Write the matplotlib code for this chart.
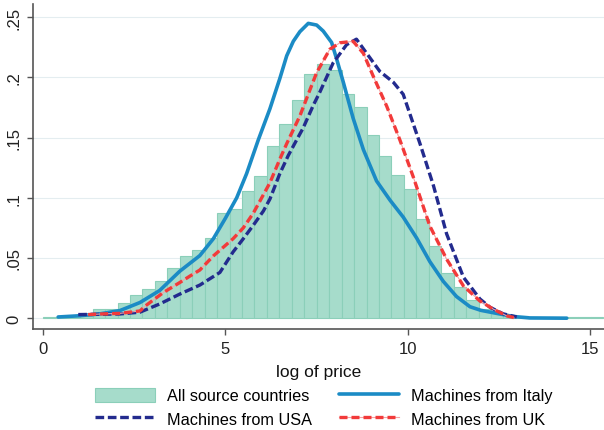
import numpy as np
import matplotlib
matplotlib.use("Agg")
import matplotlib.pyplot as plt

plt.rcParams['font.family'] = ['Liberation Sans', 'DejaVu Sans']

# histogram of all source countries (density per bin)
hist_start = 0.0
bin_width = 0.341
hist_heights = [0.0012, 0.0012, 0.0015, 0.0018, 0.0075, 0.0078, 0.013, 0.019,
                0.0244, 0.031, 0.042, 0.052, 0.0565, 0.067, 0.087, 0.0903,
                0.106, 0.118, 0.143, 0.1615, 0.1815, 0.2025, 0.211, 0.2064,
                0.1866, 0.1755, 0.1523, 0.1348, 0.1186, 0.107, 0.082, 0.0596,
                0.0374, 0.0255, 0.0154, 0.0078, 0.0047, 0.003, 0.0018, 0.0012,
                0.001, 0.0008, 0.0008, 0.0007, 0.0007]

# kernel density, machines from Italy
italy_x = [0.42, 1.0, 1.56, 2.11, 2.66, 3.2, 3.75, 4.3, 4.67, 5.0, 5.31, 5.58,
           5.9, 6.22, 6.36, 6.49, 6.68, 6.86, 7.04, 7.27, 7.5, 7.68, 7.91,
           8.05, 8.23, 8.5, 8.78, 9.14, 9.51, 9.87, 10.24, 10.6, 10.97, 11.33,
           11.7, 12.0, 12.43, 12.89, 13.34, 14.35]
italy_y = [0.001, 0.002, 0.0036, 0.0063, 0.013, 0.023, 0.039, 0.052, 0.066,
           0.083, 0.100, 0.12, 0.148, 0.174, 0.187, 0.199, 0.218, 0.23, 0.238,
           0.2449, 0.2435, 0.2385, 0.229, 0.215, 0.196, 0.166, 0.14, 0.114,
           0.098, 0.084, 0.0665, 0.047, 0.0305, 0.018, 0.0095, 0.0065, 0.004,
           0.0014, 0.0002, 0.0]

# machines from USA
usa_x = [0.97, 1.5, 2.11, 2.66, 3.2, 3.75, 4.3, 4.85, 5.21, 5.49, 5.76, 6.04,
         6.22, 6.49, 6.72, 6.95, 7.13, 7.41, 7.59, 7.95, 8.32, 8.59, 8.87,
         9.23, 9.6, 9.87, 10.05, 10.33, 10.7, 11.06, 11.52, 11.97, 12.25,
         12.61, 12.98]
usa_y = [0.003, 0.0032, 0.0035, 0.005, 0.0118, 0.02, 0.0275, 0.038, 0.055,
         0.066, 0.077, 0.089, 0.099, 0.12, 0.135, 0.148, 0.158, 0.177, 0.188,
         0.212, 0.2272, 0.2318, 0.22, 0.205, 0.196, 0.186, 0.17, 0.145, 0.11,
         0.07, 0.034, 0.016, 0.009, 0.0036, 0.001]

# machines from UK
uk_x = [1.24, 1.6, 2.11, 2.66, 2.8, 3.3, 3.75, 4.03, 4.3, 4.67, 5.21, 5.49,
        5.76, 6.22, 6.49, 6.68, 7.04, 7.32, 7.5, 7.86, 8.14, 8.5, 8.78, 9.05,
        9.42, 9.78, 10.15, 10.6, 11.06, 11.52, 11.97, 12.34, 12.7, 12.9]
uk_y = [0.003, 0.0035, 0.004, 0.006, 0.01, 0.0213, 0.0296, 0.035, 0.04,
        0.0517, 0.066, 0.075, 0.087, 0.1125, 0.132, 0.145, 0.168, 0.19, 0.204,
        0.2234, 0.2288, 0.23, 0.22, 0.201, 0.176, 0.148, 0.117, 0.0765, 0.049,
        0.0268, 0.0143, 0.0075, 0.002, 0.0005]

x_ticks = [0, 5, 10, 15]
y_ticks = [0, 0.05, 0.1, 0.15, 0.2, 0.25]
y_ticklabels = ['0', '.05', '.1', '.15', '.2', '.25']

fig = plt.figure(figsize=(6.04, 4.31), dpi=100)
ax = fig.add_axes([0.0546, 0.2343, 0.9454, 0.7541])

edges = hist_start + bin_width * np.arange(len(hist_heights))
bars = ax.bar(edges, hist_heights, width=bin_width, align='edge',
              color='#a6dccb', edgecolor='#8bcfb9', linewidth=0.8, zorder=2)

l_italy, = ax.plot(italy_x, italy_y, color='#1b8bc5', lw=2.6,
                   solid_capstyle='round', solid_joinstyle='round', zorder=3)
l_usa, = ax.plot(usa_x, usa_y, color='#232b8e', lw=2.4,
                 dashes=(2.6, 1.1), zorder=4)
l_uk_dot, = ax.plot(uk_x, uk_y, color='#f6a3a3', lw=0.8, zorder=5)
l_uk, = ax.plot(uk_x, uk_y, color='#f23a3a', lw=2.4,
                dashes=(2.4, 1.2), zorder=5)

ax.set_xlim(-0.27, 15.37)
ax.set_ylim(-0.009, 0.261)
ax.set_xticks(x_ticks)
ax.set_xticklabels([str(t) for t in x_ticks])
ax.set_yticks(y_ticks)
ax.set_yticklabels(y_ticklabels, rotation=90, va='center')
ax.tick_params(axis='both', labelsize=12, colors='#222222', length=4.5,
               width=1.0, direction='out', pad=4)
ax.tick_params(axis='both', color='#555555')

ax.yaxis.grid(True, color='#e4edf0', lw=0.8, zorder=0)
ax.set_axisbelow(True)
for s in ['top', 'right']:
    ax.spines[s].set_visible(False)
for s in ['left', 'bottom']:
    ax.spines[s].set_color('#555555')
    ax.spines[s].set_linewidth(1.2)

ax.set_xlabel('log of price', fontsize=12.5, color='#111111', labelpad=6)

fig.legend([bars, l_usa, l_italy, (l_uk_dot, l_uk)],
           ['All source countries', 'Machines from USA',
            'Machines from Italy', 'Machines from UK'],
           loc='upper center', bbox_to_anchor=(0.536, 0.121), ncol=2,
           frameon=False, fontsize=11.7, handlelength=3.7, handleheight=1.0,
           handletextpad=0.7, columnspacing=1.7, labelspacing=0.45,
           borderpad=0.1)

fig.savefig('out.png', dpi=100)
